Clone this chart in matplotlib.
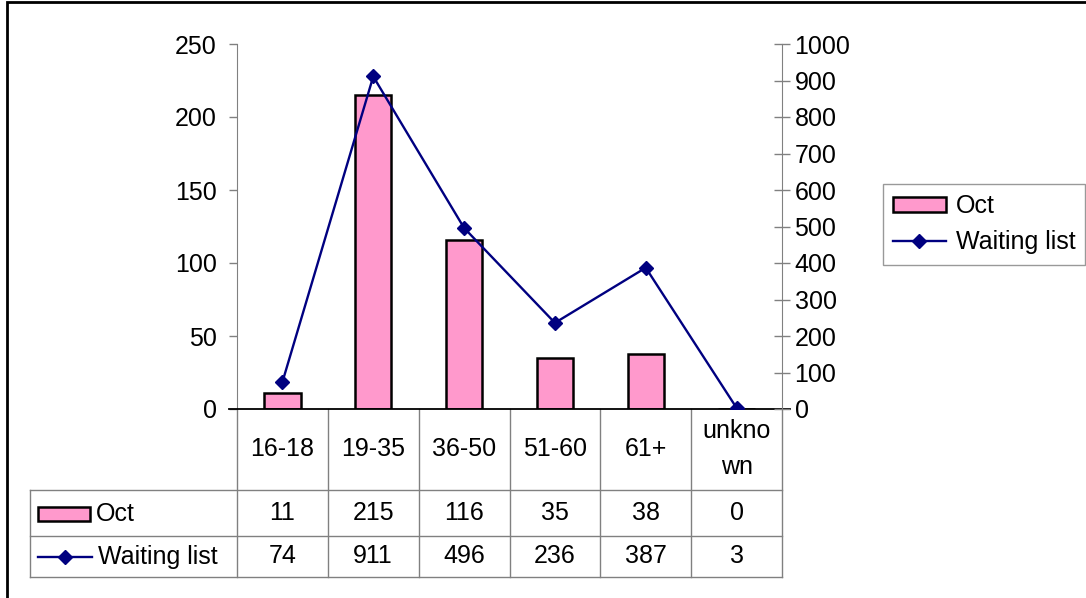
import matplotlib
matplotlib.use('Agg')
import matplotlib.pyplot as plt
import matplotlib.transforms as mtransforms
from matplotlib.patches import Rectangle
from matplotlib.lines import Line2D

plt.rcParams['font.family'] = ['Liberation Sans', 'DejaVu Sans']

# Data
categories = ['16-18', '19-35', '36-50', '51-60', '61+', 'unkno\nwn']
oct_values = [11, 215, 116, 35, 38, 0]
waiting_list = [74, 911, 496, 236, 387, 3]

bar_color = '#FF99CC'
line_color = '#000080'
grid_gray = '#808080'
fs = 18

W, H = 1086, 598
fig = plt.figure(figsize=(W / 100, H / 100), dpi=100)

# plot area in pixels (left, top, right, bottom)
pl, pt, pr, pb = 237, 44, 782, 409
ax = fig.add_axes([pl / W, 1 - pb / H, (pr - pl) / W, (pb - pt) / H])
ax2 = ax.twinx()

x = list(range(len(categories)))
ax.bar(x, oct_values, width=0.4, color=bar_color, edgecolor='black', linewidth=1.8, zorder=2)
ax2.plot(x, waiting_list, color=line_color, linewidth=1.7, marker='D', markersize=7, zorder=3)

ax.set_xlim(-0.5, len(categories) - 0.5)
ax.set_ylim(0, 250)
ax2.set_ylim(0, 1000)
ax.set_yticks(range(0, 251, 50))
ax2.set_yticks(range(0, 1001, 100))
ax.set_xticks([])

for spine in ['top', 'right']:
    ax.spines[spine].set_visible(False)
for spine in ['top', 'left']:
    ax2.spines[spine].set_visible(False)
ax.spines['left'].set_color(grid_gray)
ax2.spines['right'].set_color(grid_gray)
ax2.spines['bottom'].set_visible(False)
ax.spines['bottom'].set_visible(False)

ax.tick_params(axis='y', direction='out', length=6, width=1, color=grid_gray, labelsize=fs, pad=8.5)
ax2.tick_params(axis='y', direction='inout', length=12, width=1, color=grid_gray, labelsize=fs, pad=3)

# x axis line slightly overshooting both axes
ax.plot([-8 / 545, 1 + 8 / 545], [0, 0], transform=ax.transAxes, color='black',
        linewidth=1.3, clip_on=False, zorder=4)


def ay(py):
    # pixel row -> axes y
    return (pb - py) / (pb - pt)


def ax_x(px):
    # pixel column -> axes x
    return (px - pl) / (pr - pl)


trans = mtransforms.blended_transform_factory(ax.transData, ax.transAxes)
ta = ax.transAxes

# data table grid
t_left = ax_x(30)
y_head, y_oct, y_wait = ay(490), ay(536), ay(577)
lw_t = 1.0
for yy in [y_head, y_oct, y_wait]:
    ax.plot([t_left, 1], [yy, yy], transform=ta, color=grid_gray, lw=lw_t, clip_on=False)
ax.plot([t_left, t_left], [y_head, y_wait], transform=ta, color=grid_gray, lw=lw_t, clip_on=False)
for i in range(len(categories) + 1):
    ax.plot([i - 0.5, i - 0.5], [0, y_wait], transform=trans, color=grid_gray, lw=lw_t, clip_on=False)

# table texts
for i, cat in enumerate(categories):
    ax.text(i, ay(449), cat, transform=trans, ha='center', va='center', fontsize=fs, linespacing=1.6)
    ax.text(i, ay(513), str(oct_values[i]), transform=trans, ha='center', va='center', fontsize=fs)
    ax.text(i, ay(556), str(waiting_list[i]), transform=trans, ha='center', va='center', fontsize=fs)

# row labels with legend keys
ax.add_patch(Rectangle((ax_x(38), ay(521)), ax_x(90) - ax_x(38), ay(507) - ay(521),
                       transform=ta, facecolor=bar_color, edgecolor='black', lw=1.8, clip_on=False))
ax.text(ax_x(96), ay(514), 'Oct', transform=ta, ha='left', va='center', fontsize=fs)
ax.plot([ax_x(38), ax_x(92)], [ay(557), ay(557)], transform=ta, color=line_color, lw=1.7, clip_on=False)
ax.plot([ax_x(65)], [ay(557)], transform=ta, color=line_color, marker='D', markersize=7, clip_on=False)
ax.text(ax_x(98), ay(557), 'Waiting list', transform=ta, ha='left', va='center', fontsize=fs)

# legend
handles = [Rectangle((0, 0), 1, 1, facecolor=bar_color, edgecolor='black', lw=1.8),
           Line2D([], [], color=line_color, lw=1.7, marker='D', markersize=7)]
leg = fig.legend(handles, ['Oct', 'Waiting list'], loc='upper left',
                 bbox_to_anchor=(883 / W, 1 - 184 / H), fontsize=fs, frameon=True,
                 fancybox=False, handlelength=2.1, handleheight=0.55, handletextpad=0.4,
                 borderpad=0.4, labelspacing=0.5, borderaxespad=0)
leg.get_frame().set_edgecolor(grid_gray)
leg.get_frame().set_linewidth(1.0)

# chart area border
fig.patches.append(Rectangle((7 / W, -0.1), 1.2, 1.1 - 2 / H, transform=fig.transFigure,
                             fill=False, edgecolor='black', lw=2.0))

fig.savefig('out.png', dpi=100)
